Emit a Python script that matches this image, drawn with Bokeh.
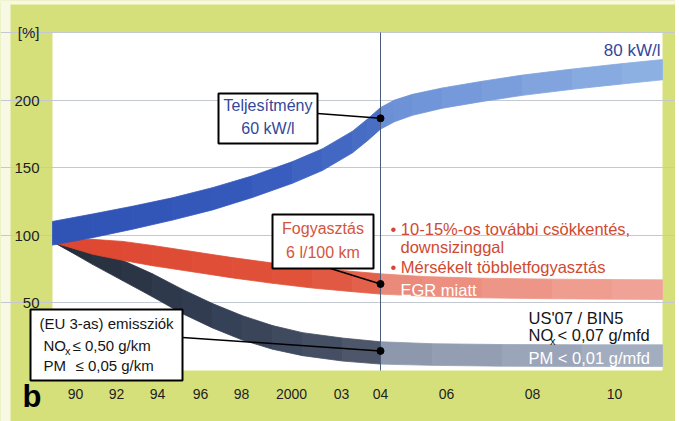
from bokeh.plotting import figure
from bokeh.models import Range1d, FixedTicker, BoxAnnotation, Label
from bokeh.embed import file_html
from bokeh.resources import INLINE

# ---------------- data (schematic time axis in position units) ----------------
tick_pos = [23, 64, 105, 148, 189, 239, 289, 328, 394, 480, 562]
tick_labels = ["90", "92", "94", "96", "98", "2000", "03", "04", "06", "08", "10"]
y_ticks = [50, 100, 150, 200, 250]
y_tick_labels = ["50", "100", "150", "200", "[%]"]

# Teljesítmény (power) band: centre values [%] and band width
power_x = [0, 40, 80, 120, 160, 200, 240, 270, 300, 315, 328, 342, 360, 390, 430, 470, 520, 570, 610]
power_y = [101.5, 107, 113, 119.5, 127, 136, 146.5, 156, 169, 178, 186.5, 192, 196.5, 201.5, 206.5, 211, 215.5, 219.5, 222.5]
power_w = [17.5, 17.5, 17, 16.5, 16.5, 16, 16, 16, 16, 16, 16, 16, 15.5, 15, 15, 15, 15, 15, 15]

# Fogyasztás (consumption) band
fuel_x = [3, 20, 40, 70, 100, 140, 180, 220, 260, 300, 328, 370, 430, 500, 560, 610]
fuel_y = [94.7, 93.5, 91.5, 88.5, 85, 80.5, 76, 72, 68.5, 65.8, 64, 62.3, 61, 60.3, 60, 59.8]
fuel_w = [1, 6, 11, 14, 15, 15, 15, 15, 15, 15, 15, 14.5, 14.5, 14.5, 14.5, 14.5]

# Emissziók (emissions) band
emis_x = [3, 20, 40, 70, 100, 130, 160, 190, 220, 250, 290, 328, 380, 450, 530, 610]
emis_y = [94.5, 90, 84, 74, 63, 51, 40.5, 31.5, 24.5, 19.5, 15.5, 13, 11.8, 11.2, 11, 11]
emis_w = [1, 6, 11, 15, 17, 18, 18, 18, 17.5, 17, 17, 16.5, 16, 16, 16, 16]

marker_x = [328, 328, 328]
marker_y = [186.5, 64.0, 14.5]

# ---------------- styles ----------------
FONT = "Liberation Sans"
GREEN = "#d6e07b"
BLUE_T = "#34479b"
RED_T = "#d4553b"
NOTE_RED = "#cf4a31"
PLOT_X = (0, 610)
PLOT_Y = (0, 250)
X_RANGE = (-52, 623)
Y_RANGE = (-37.72, 273.67)

power_stops = [(0, "#2f52b5"), (200, "#3659bc"), (328, "#4a70c6"), (328.01, "#6a8fd6"), (610, "#90b2e4")]
fuel_stops = [(0, "#de4630"), (250, "#e1523b"), (328, "#e4644f"), (328.01, "#ea8878"), (610, "#f0a598")]
emis_stops = [(0, "#232b37"), (150, "#313d52"), (300, "#4a5467"), (328, "#555e70"), (328.01, "#8a95aa"), (610, "#a7b1c4")]


def hex2rgb(h):
    h = h.lstrip("#")
    return [int(h[i:i + 2], 16) for i in (0, 2, 4)]


def color_at(stops, x):
    for (x0, c0), (x1, c1) in zip(stops[:-1], stops[1:]):
        if x0 <= x <= x1:
            t = (x - x0) / (x1 - x0)
            a, b = hex2rgb(c0), hex2rgb(c1)
            return "#%02x%02x%02x" % tuple(int(round(a[i] + (b[i] - a[i]) * t)) for i in range(3))
    return stops[-1][1]


# frame covers the whole canvas; axes are fixed at the plot-area edges
p = figure(width=675, height=421, output_backend="svg", toolbar_location=None,
           x_range=Range1d(*X_RANGE), y_range=Range1d(*Y_RANGE),
           min_border=0, min_border_left=0, min_border_right=0, min_border_top=0, min_border_bottom=0)
p.border_fill_color = GREEN
p.background_fill_color = GREEN
p.outline_line_color = None

# pale page edges (left and top) of the original scan
p.quad(left=[X_RANGE[0], X_RANGE[0]], right=[X_RANGE[0] + 10, X_RANGE[1]],
       bottom=[Y_RANGE[0], Y_RANGE[1] - 3], top=[Y_RANGE[1], Y_RANGE[1]],
       fill_color="#f8f9e4", line_color=None, level="image")

# white plot area
p.quad(left=PLOT_X[0], right=PLOT_X[1], bottom=PLOT_Y[0], top=PLOT_Y[1],
       fill_color="white", line_color=None, level="image")

# axes
p.xaxis.ticker = FixedTicker(ticks=tick_pos)
p.xaxis.major_label_overrides = {t: l for t, l in zip(tick_pos, tick_labels)}
p.yaxis.ticker = FixedTicker(ticks=y_ticks)
p.yaxis.major_label_overrides = {t: l for t, l in zip(y_ticks, y_tick_labels)}
p.xaxis.fixed_location = PLOT_Y[0]
p.yaxis.fixed_location = PLOT_X[0]
for ax in (p.xaxis, p.yaxis):
    ax.axis_line_color = None
    ax.major_tick_line_color = None
    ax.minor_tick_line_color = None
    ax.major_label_text_font = FONT
    ax.major_label_text_color = "#1e1e1e"
p.xaxis.major_label_text_font_size = "14px"
p.yaxis.major_label_text_font_size = "15px"
p.xaxis.major_label_standoff = 12
p.yaxis.major_label_standoff = 7
p.xgrid.grid_line_color = None
p.ygrid.grid_line_color = "#c3c8d1"
p.ygrid.grid_line_width = 1
p.ygrid.bounds = PLOT_X


def band(xs, ys, ws, stops):
    px, py, cols = [], [], []
    for i in range(len(xs) - 1):
        x0, x1 = xs[i], xs[i + 1]
        h0, h1 = ws[i] / 2, ws[i + 1] / 2
        px.append([x0, x1, x1, x0])
        py.append([ys[i] + h0, ys[i + 1] + h1, ys[i + 1] - h1, ys[i] - h0])
        cols.append(color_at(stops, (x0 + x1) / 2))
    p.patches(xs=px, ys=py, fill_color=cols, line_color=cols, line_width=0.8)


band(emis_x, emis_y, emis_w, emis_stops)
band(fuel_x, fuel_y, fuel_w, fuel_stops)
band(power_x, power_y, power_w, power_stops)

# vertical "04" marker line
p.segment(x0=[tick_pos[7]], y0=[PLOT_Y[0]], x1=[tick_pos[7]], y1=[PLOT_Y[1]],
          line_color="#4b5b7c", line_width=1)

# connectors and markers
p.segment(x0=[265, 278, 130], y0=[190.1, 75.4, 24.4], x1=marker_x, y1=marker_y,
          line_color="black", line_width=1.5)
p.scatter(x=marker_x, y=marker_y, size=7, color="black")

# boxes
for l, r, t, b in [(166, 265, 204.9, 167.9), (220, 321, 115.4, 75.4), (-22, 130, 45.1, -7.4)]:
    p.add_layout(BoxAnnotation(left=l, right=r, top=t, bottom=b, fill_color="white", fill_alpha=1,
                               line_color="black", line_width=2, line_alpha=1))


def lab(x, y, text, color="black", size="16px", align="left", baseline="middle", style="normal"):
    p.add_layout(Label(x=x, y=y, text=text, text_color=color, text_font=FONT, text_font_size=size,
                       text_align=align, text_baseline=baseline, text_font_style=style))


lab(608, 236.7, "80 kW/l", BLUE_T, "17px", "right")
lab(215.5, 196.0, "Teljesítmény", BLUE_T, "16px", "center")
lab(215.5, 179.0, "60 kW/l", BLUE_T, "16px", "center")
lab(270.5, 105.0, "Fogyasztás", RED_T, "16px", "center")
lab(270.5, 87.3, "6 l/100 km", RED_T, "16px", "center")

lab(338, 105.0, "• 10-15%-os további csökkentés,", NOTE_RED, "16.5px")
lab(348, 91.0, "downsizinggal", NOTE_RED, "16.5px")
lab(338, 76.2, "• Mérsékelt többletfogyasztás", NOTE_RED, "16.5px")
lab(348, 59.9, "EGR miatt", "white", "16.5px")

lab(476, 38.5, "US'07 / BIN5", "#151515", "16.5px")
lab(476, 25.9, "NO", "#151515", "16.5px")
lab(497.5, 21.8, "x", "#151515", "11px")
lab(505, 25.9, "< 0,07 g/mfd", "#151515", "16.5px")
lab(476, 9.6, "PM < 0,01 g/mfd", "white", "16.5px")

lab(54, 34.8, "(EU 3-as) emissziók", "#151515", "15px", "center")
lab(-9, 18.5, "NO", "#151515", "15px")
lab(12.5, 14.2, "x", "#151515", "11px")
lab(20, 18.5, "≤ 0,50 g/km", "#151515", "15px")
lab(-9, 3.7, "PM", "#151515", "15px")
lab(23, 3.7, "≤ 0,05 g/km", "#151515", "15px")

lab(-30, -19.2, "b", "black", "31px", "left", "middle", "bold")

open("out.html", "w").write(file_html(p, INLINE))
